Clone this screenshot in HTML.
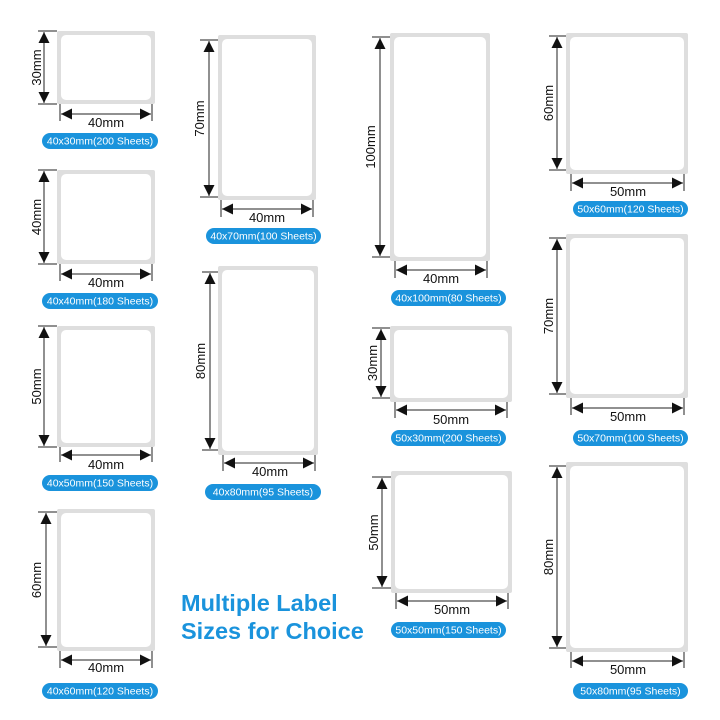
<!DOCTYPE html>
<html><head><meta charset="utf-8"><style>
html,body{margin:0;padding:0;background:#fff;}
svg{display:block;font-family:"Liberation Sans",Arial,sans-serif;}
.o{fill:#dedede}
.i{fill:#fff}
.d{stroke:#222;stroke-width:1;fill:none}
.a{stroke:#222;stroke-width:1;fill:none;marker-start:url(#m);marker-end:url(#m)}
.t{font-size:13px;fill:#111;text-anchor:middle}
.p{fill:#1a93dc}
.pt{font-size:10.5px;fill:#fff;text-anchor:middle}
</style></head><body>
<svg width="720" height="720" viewBox="0 0 720 720" xmlns="http://www.w3.org/2000/svg">
<defs><marker id="m" viewBox="0 0 10 10" refX="10" refY="5" markerWidth="11" markerHeight="11" markerUnits="userSpaceOnUse" orient="auto-start-reverse"><path d="M0,0 L10,5 L0,10 z" fill="#111"/></marker></defs>

<!-- 40x30 -->
<rect class="o" x="57" y="31" width="98" height="73" rx="2"/><rect class="i" x="61" y="35" width="90" height="65" rx="5"/>
<path class="d" d="M38 31H57M38 104H57M60 104V121M152 104V121"/>
<line class="a" x1="44" y1="32" x2="44" y2="103"/><line class="a" x1="61" y1="114" x2="151" y2="114"/>
<text class="t" transform="translate(41,67.5) rotate(-90)">30mm</text><text class="t" x="106" y="127">40mm</text>
<rect class="p" x="42" y="133" width="116" height="16" rx="8"/><text class="pt" x="100" y="144.5">40x30mm(200 Sheets)</text>

<!-- 40x40 -->
<rect class="o" x="57" y="170" width="98" height="94" rx="2"/><rect class="i" x="61" y="174" width="90" height="86" rx="5"/>
<path class="d" d="M38 170H57M38 264H57M60 264V281M152 264V281"/>
<line class="a" x1="44" y1="171" x2="44" y2="263"/><line class="a" x1="61" y1="274" x2="151" y2="274"/>
<text class="t" transform="translate(41,217) rotate(-90)">40mm</text><text class="t" x="106" y="287">40mm</text>
<rect class="p" x="42" y="293" width="116" height="16" rx="8"/><text class="pt" x="100" y="304.5">40x40mm(180 Sheets)</text>

<!-- 40x50 -->
<rect class="o" x="57" y="326" width="98" height="121" rx="2"/><rect class="i" x="61" y="330" width="90" height="113" rx="5"/>
<path class="d" d="M38 326H57M38 447H57M60 447V462M152 447V462"/>
<line class="a" x1="44" y1="327" x2="44" y2="446"/><line class="a" x1="61" y1="455" x2="151" y2="455"/>
<text class="t" transform="translate(41,386.5) rotate(-90)">50mm</text><text class="t" x="106" y="469">40mm</text>
<rect class="p" x="42" y="475" width="116" height="16" rx="8"/><text class="pt" x="100" y="486.5">40x50mm(150 Sheets)</text>

<!-- 40x60 -->
<rect class="o" x="57" y="509" width="98" height="142" rx="2"/><rect class="i" x="61" y="513" width="90" height="134" rx="5"/>
<path class="d" d="M38 512H57M38 647H57M60 651V668M152 651V668"/>
<line class="a" x1="46" y1="513" x2="46" y2="646"/><line class="a" x1="61" y1="660" x2="151" y2="660"/>
<text class="t" transform="translate(41,580) rotate(-90)">60mm</text><text class="t" x="106" y="672">40mm</text>
<rect class="p" x="42" y="683" width="116" height="16" rx="8"/><text class="pt" x="100" y="694.5">40x60mm(120 Sheets)</text>

<!-- 40x70 -->
<rect class="o" x="218" y="35" width="98" height="165" rx="2"/><rect class="i" x="222" y="39" width="90" height="157" rx="5"/>
<path class="d" d="M200 40H218M200 197H218M221 200V217M313 200V217"/>
<line class="a" x1="209" y1="41" x2="209" y2="196"/><line class="a" x1="222" y1="209" x2="312" y2="209"/>
<text class="t" transform="translate(204,118.5) rotate(-90)">70mm</text><text class="t" x="267" y="222">40mm</text>
<rect class="p" x="206" y="228" width="115" height="16" rx="8"/><text class="pt" x="263.5" y="239.5">40x70mm(100 Sheets)</text>

<!-- 40x80 -->
<rect class="o" x="218" y="266" width="100" height="189" rx="2"/><rect class="i" x="222" y="270" width="92" height="181" rx="5"/>
<path class="d" d="M202 272H218M202 450H218M223 455V471M315 455V471"/>
<line class="a" x1="210" y1="273" x2="210" y2="449"/><line class="a" x1="224" y1="463" x2="314" y2="463"/>
<text class="t" transform="translate(205,361) rotate(-90)">80mm</text><text class="t" x="270" y="476">40mm</text>
<rect class="p" x="205" y="484" width="116" height="16" rx="8"/><text class="pt" x="263" y="495.5">40x80mm(95 Sheets)</text>

<!-- 40x100 -->
<rect class="o" x="390" y="33" width="100" height="228" rx="2"/><rect class="i" x="394" y="37" width="92" height="220" rx="5"/>
<path class="d" d="M372 37H390M372 257H390M395 261V278M487 261V278"/>
<line class="a" x1="380" y1="38" x2="380" y2="256"/><line class="a" x1="396" y1="270" x2="486" y2="270"/>
<text class="t" transform="translate(375,147) rotate(-90)">100mm</text><text class="t" x="441" y="283">40mm</text>
<rect class="p" x="391" y="290" width="115" height="16" rx="8"/><text class="pt" x="448.5" y="301.5">40x100mm(80 Sheets)</text>

<!-- 50x30 -->
<rect class="o" x="390" y="326" width="122" height="76" rx="2"/><rect class="i" x="394" y="330" width="114" height="68" rx="5"/>
<path class="d" d="M372 328H390M372 398H390M395 402V418M507 402V418"/>
<line class="a" x1="381" y1="329" x2="381" y2="397"/><line class="a" x1="396" y1="410" x2="506" y2="410"/>
<text class="t" transform="translate(377,363) rotate(-90)">30mm</text><text class="t" x="451" y="424">50mm</text>
<rect class="p" x="391" y="430" width="115" height="16" rx="8"/><text class="pt" x="448.5" y="441.5">50x30mm(200 Sheets)</text>

<!-- 50x50 -->
<rect class="o" x="391" y="471" width="121" height="122" rx="2"/><rect class="i" x="395" y="475" width="113" height="114" rx="5"/>
<path class="d" d="M372 477H391M372 588H391M396 593V609M508 593V609"/>
<line class="a" x1="382" y1="478" x2="382" y2="587"/><line class="a" x1="397" y1="601" x2="507" y2="601"/>
<text class="t" transform="translate(378,532.5) rotate(-90)">50mm</text><text class="t" x="452" y="614">50mm</text>
<rect class="p" x="391" y="622" width="115" height="16" rx="8"/><text class="pt" x="448.5" y="633.5">50x50mm(150 Sheets)</text>

<!-- 50x60 -->
<rect class="o" x="566" y="33" width="122" height="141" rx="2"/><rect class="i" x="570" y="37" width="114" height="133" rx="5"/>
<path class="d" d="M549 36H566M549 170H566M571 174V191M684 174V191"/>
<line class="a" x1="557" y1="37" x2="557" y2="169"/><line class="a" x1="572" y1="183" x2="683" y2="183"/>
<text class="t" transform="translate(553,103) rotate(-90)">60mm</text><text class="t" x="628" y="196">50mm</text>
<rect class="p" x="573" y="201" width="115" height="16" rx="8"/><text class="pt" x="630.5" y="212.5">50x60mm(120 Sheets)</text>

<!-- 50x70 -->
<rect class="o" x="566" y="234" width="122" height="164" rx="2"/><rect class="i" x="570" y="238" width="114" height="156" rx="5"/>
<path class="d" d="M549 238H566M549 394H566M571 398V415M684 398V415"/>
<line class="a" x1="557" y1="239" x2="557" y2="393"/><line class="a" x1="572" y1="408" x2="683" y2="408"/>
<text class="t" transform="translate(553,316) rotate(-90)">70mm</text><text class="t" x="628" y="421">50mm</text>
<rect class="p" x="573" y="430" width="115" height="16" rx="8"/><text class="pt" x="630.5" y="441.5">50x70mm(100 Sheets)</text>

<!-- 50x80 -->
<rect class="o" x="566" y="462" width="122" height="190" rx="2"/><rect class="i" x="570" y="466" width="114" height="182" rx="5"/>
<path class="d" d="M549 466H566M549 648H566M571 652V668M684 652V668"/>
<line class="a" x1="557" y1="467" x2="557" y2="647"/><line class="a" x1="572" y1="661" x2="683" y2="661"/>
<text class="t" transform="translate(553,557) rotate(-90)">80mm</text><text class="t" x="628" y="674">50mm</text>
<rect class="p" x="573" y="683" width="115" height="16" rx="8"/><text class="pt" x="630.5" y="694.5">50x80mm(95 Sheets)</text>

<text x="181" y="611" font-size="23.5" font-weight="bold" fill="#1a93dc">Multiple Label</text>
<text x="181" y="639" font-size="23.5" font-weight="bold" fill="#1a93dc">Sizes for Choice</text>
</svg>
</body></html>
